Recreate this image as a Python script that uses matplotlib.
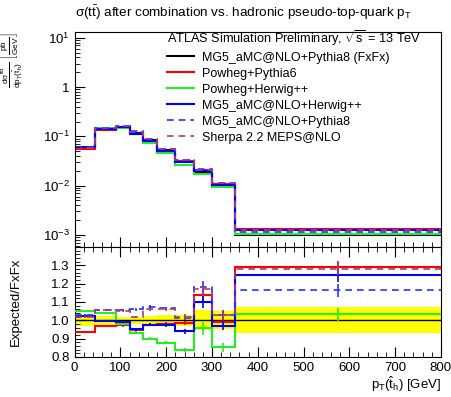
import numpy as np
import matplotlib
matplotlib.use("Agg")
import matplotlib.pyplot as plt
from matplotlib.ticker import MultipleLocator, LogLocator, NullFormatter

plt.rcParams['font.family'] = ['Liberation Sans', 'DejaVu Sans']
plt.rcParams['mathtext.fontset'] = 'custom'
plt.rcParams['mathtext.rm'] = 'Liberation Sans'
plt.rcParams['mathtext.it'] = 'Liberation Sans'
plt.rcParams['mathtext.bf'] = 'Liberation Sans:bold'

# bin edges in pT(t_h) [GeV]
edges = [0, 45, 90, 120, 150, 180, 220, 260, 300, 350, 800]

# FxFx reference cross section [pb/GeV]
fxfx = [0.058, 0.140, 0.153, 0.119, 0.083, 0.052, 0.032, 0.018, 0.0108, 0.00100]

# ratios to FxFx
r_pow_py6 = [0.938, 0.969, 0.972, 0.945, 0.975, 0.980, 0.985, 1.140, 0.990, 1.290]
r_pow_hw = [1.051, 1.038, 0.978, 0.933, 0.900, 0.878, 0.837, 0.956, 0.854, 1.033]
r_mg_hw = [1.024, 0.996, 0.990, 0.950, 0.975, 0.975, 0.940, 1.100, 0.970, 1.246]
r_mg_py8 = [1.030, 1.056, 1.056, 1.060, 1.073, 1.065, 1.015, 1.180, 1.030, 1.164]
r_sherpa = [1.020, 1.055, 1.050, 1.018, 1.060, 1.060, 1.020, 1.170, 1.030, 1.280]

# statistical error on ratios and FxFx uncertainty band (half width)
stat_err = [0.006, 0.006, 0.006, 0.007, 0.008, 0.009, 0.012, 0.035, 0.025, 0.035]
band = [0.030, 0.025, 0.020, 0.020, 0.025, 0.028, 0.030, 0.055, 0.050, 0.070]

labels = ["MG5_aMC@NLO+Pythia8 (FxFx)", "Powheg+Pythia6", "Powheg+Herwig++",
          "MG5_aMC@NLO+Herwig++", "MG5_aMC@NLO+Pythia8", "Sherpa 2.2 MEPS@NLO"]
colors = ["black", "#ff0000", "#22ee22", "#0000ff", "#2233ff", "#b03a6e"]
styles = ["-", "-", "-", "-", (0, (4, 3)), (0, (4, 3))]
widths = [1.5, 1.5, 1.5, 1.5, 1.2, 1.2]

edges = np.array(edges)
centers = 0.5 * (edges[1:] + edges[:-1])
fxfx = np.array(fxfx)
ratios = [np.ones(len(fxfx)), np.array(r_pow_py6), np.array(r_pow_hw),
          np.array(r_mg_hw), np.array(r_mg_py8), np.array(r_sherpa)]

fig = plt.figure(figsize=(4.51, 3.97), dpi=100)
ax1 = fig.add_axes([0.1656, 0.378, 0.812, 0.541])
ax2 = fig.add_axes([0.1656, 0.1008, 0.812, 0.277])

# top panel
for r, c, ls, lw in zip(ratios, colors, styles, widths):
    ax1.stairs(fxfx * r, edges, baseline=None, color=c, linestyle=ls, linewidth=lw)

ax1.set_yscale('log')
ax1.set_ylim(5.7e-4, 13)
ax1.set_xlim(0, 800)
ax1.set_yticks([1e-3, 1e-2, 1e-1, 1, 10])
ax1.set_yticklabels([r'$10^{-3}$', r'$10^{-2}$', r'$10^{-1}$', '1', r'$10^{1}$'])
ax1.yaxis.set_minor_locator(LogLocator(base=10, subs=np.arange(2, 10)))
ax1.yaxis.set_minor_formatter(NullFormatter())
ax1.xaxis.set_major_locator(MultipleLocator(100))
ax1.xaxis.set_minor_locator(MultipleLocator(20))
ax1.tick_params(axis='x', labelbottom=False)
ax1.set_ylabel(r'$\frac{\mathrm{d}\sigma^{\mathrm{fid}}}{\mathrm{d}p_{\mathrm{T}}(\hat{t}_{\mathrm{h}})}\ \left[\frac{\mathrm{pb}}{\mathrm{GeV}}\right]$',
               loc='top', fontsize=8.5)

ax1.legend([plt.Line2D([], [], color=c, linestyle=ls, linewidth=lw)
            for c, ls, lw in zip(colors, styles, widths)],
           labels, loc='upper left', bbox_to_anchor=(0.228, 1.06),
           frameon=False, fontsize=9, title_fontsize=9.2,
           title=r'ATLAS Simulation Preliminary, $\sqrt{s}$ = 13 TeV',
           alignment='left', handlelength=2.2, handletextpad=0.6,
           labelspacing=0.32, borderpad=0.2)

# bottom panel
lo = 1 - np.array(band)
hi = 1 + np.array(band)
ax2.stairs(hi, edges, baseline=lo, fill=True, color='#ffff00', zorder=1)
ax2.stairs(np.ones(len(fxfx)), edges, baseline=None, color='black', linewidth=1, zorder=2)
for r, c, ls, lw in zip(ratios[1:], colors[1:], styles[1:], widths[1:]):
    ax2.stairs(r, edges, baseline=None, color=c, linestyle=ls, linewidth=lw, zorder=3)
    ax2.errorbar(centers, r, yerr=stat_err, fmt='none', ecolor=c, elinewidth=1.2,
                 linestyle=ls, zorder=3)

ax2.set_xlim(0, 800)
ax2.set_ylim(0.8, 1.4)
ax2.yaxis.set_minor_locator(MultipleLocator(0.02))
ax2.xaxis.set_major_locator(MultipleLocator(100))
ax2.xaxis.set_minor_locator(MultipleLocator(20))
ax2.set_yticks([0.8, 0.9, 1.0, 1.1, 1.2, 1.3])
ax2.set_ylabel('Expected/FxFx', fontsize=9.5)
ax2.set_xlabel(r'$p_{\mathrm{T}}(\hat{t}_{\mathrm{h}})$ [GeV]', loc='right', fontsize=9.5)

for ax in (ax1, ax2):
    ax.tick_params(which='both', direction='in', labelsize=9.5)
    ax.tick_params(which='major', length=7)
    ax.tick_params(which='minor', length=3.5)
ax2.tick_params(which='both', top=True)
ax1.yaxis.set_label_coords(-0.135, 1.0)
ax2.yaxis.set_label_coords(-0.145, 0.5)
ax2.xaxis.set_label_coords(1.0, -0.16)

fig.text(0.166, 0.967, r'$\sigma(\mathrm{t\bar{t}})$ after combination vs. hadronic pseudo-top-quark $p_{\mathrm{T}}$',
         ha='left', va='center', fontsize=9.7)

fig.savefig('out.png', dpi=100)
